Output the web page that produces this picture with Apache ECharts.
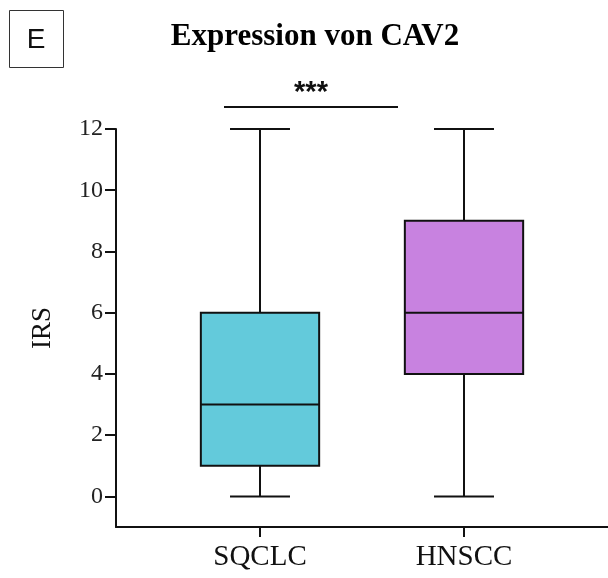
<!DOCTYPE html>
<html>
<head>
<meta charset="utf-8">
<title>Expression von CAV2</title>
<script src="https://cdn.jsdelivr.net/npm/echarts@6/dist/echarts.min.js"></script>
<style>
  html, body { margin: 0; padding: 0; background: #ffffff; }
  #chart { width: 608px; height: 578px; }
</style>
</head>
<body>
<div id="chart"></div>
<script>
// Groups and their IRS box statistics
const categories = ['SQCLC', 'HNSCC'];
const minValues = [0, 0];
const q1Values = [1, 4];
const medianValues = [3, 6];
const q3Values = [6, 9];
const maxValues = [12, 12];
const yTickValues = [0, 2, 4, 6, 8, 10, 12];

const boxColors = ['#63CADB', '#C882E0'];
const serif = "'Liberation Serif', 'Times New Roman', serif";
const sans = "'Liberation Sans', Arial, sans-serif";

const boxData = categories.map((c, i) => [
  i, minValues[i], q1Values[i], medianValues[i], q3Values[i], maxValues[i]
]);

const chart = echarts.init(document.getElementById('chart'), null, { renderer: 'canvas' });

// Box + whisker drawn in data space; caps are half the box width
function renderBox(params, api) {
  const idx = api.value(0);
  const band = api.size([1, 0])[0];
  const halfBox = band * 0.29;
  const halfCap = band * 0.147;
  const pMin = api.coord([idx, api.value(1)]);
  const pQ1 = api.coord([idx, api.value(2)]);
  const pMed = api.coord([idx, api.value(3)]);
  const pQ3 = api.coord([idx, api.value(4)]);
  const pMax = api.coord([idx, api.value(5)]);
  const cx = pMed[0];
  const stroke = { stroke: '#111111', lineWidth: 2 };
  return {
    type: 'group',
    children: [
      { type: 'line', shape: { x1: cx, y1: pMin[1], x2: cx, y2: pQ1[1] }, style: stroke },
      { type: 'line', shape: { x1: cx, y1: pQ3[1], x2: cx, y2: pMax[1] }, style: stroke },
      { type: 'line', shape: { x1: cx - halfCap, y1: pMin[1], x2: cx + halfCap, y2: pMin[1] }, style: stroke },
      { type: 'line', shape: { x1: cx - halfCap, y1: pMax[1], x2: cx + halfCap, y2: pMax[1] }, style: stroke },
      {
        type: 'rect',
        shape: { x: cx - halfBox, y: pQ3[1], width: halfBox * 2, height: pQ1[1] - pQ3[1] },
        style: { fill: boxColors[idx], stroke: '#111111', lineWidth: 2 }
      },
      { type: 'line', shape: { x1: cx - halfBox, y1: pMed[1], x2: cx + halfBox, y2: pMed[1] }, style: stroke }
    ]
  };
}

const option = {
  backgroundColor: '#ffffff',
  animation: false,
  title: {
    text: 'Expression von CAV2',
    left: 310,
    textAlign: 'center',
    top: 16,
    textStyle: { fontFamily: serif, fontSize: 31, fontWeight: 'bold', color: '#000000' }
  },
  grid: [
    { left: 116, right: 0, top: 129, bottom: 51 },
    { left: 158, right: 42, top: 129, bottom: 51 }
  ],
  xAxis: [
    {
      gridIndex: 0, type: 'value', min: 0, max: 1,
      axisLine: { show: true, onZero: false, lineStyle: { color: '#111111', width: 2 } },
      axisTick: { show: false }, axisLabel: { show: false }, splitLine: { show: false }
    },
    {
      gridIndex: 1, type: 'category', data: categories,
      axisLine: { show: false, onZero: false },
      axisTick: { show: true, alignWithLabel: true, length: 10, lineStyle: { color: '#111111', width: 2 } },
      axisLabel: { fontFamily: serif, fontSize: 29, color: '#111111', margin: 16 },
      splitLine: { show: false }
    }
  ],
  yAxis: [
    {
      gridIndex: 0, type: 'value', min: -1, max: 12,
      name: 'IRS', nameLocation: 'middle', nameGap: 60, nameRotate: 90,
      nameTextStyle: { fontFamily: serif, fontSize: 27, color: '#111111' },
      axisLine: { show: true, onZero: false, lineStyle: { color: '#111111', width: 2 } },
      axisTick: { show: true, customValues: yTickValues, length: 11, lineStyle: { color: '#111111', width: 2 } },
      axisLabel: { customValues: yTickValues, fontFamily: serif, fontSize: 24, color: '#222222', margin: 13 },
      splitLine: { show: false }
    },
    {
      gridIndex: 1, type: 'value', min: -1, max: 12, show: false
    }
  ],
  series: [
    {
      type: 'custom',
      xAxisIndex: 1,
      yAxisIndex: 1,
      renderItem: renderBox,
      encode: { x: 0, y: [1, 2, 3, 4, 5] },
      data: boxData
    }
  ],
  graphic: [
    { type: 'rect', shape: { x: 9.5, y: 10.5, width: 54, height: 57 }, style: { fill: 'none', stroke: '#333333', lineWidth: 1 } },
    { type: 'text', x: 36, y: 40, style: { text: 'E', fontFamily: sans, fontSize: 28, fill: '#111111', textAlign: 'center', textVerticalAlign: 'middle' } },
    { type: 'line', shape: { x1: 224, y1: 107, x2: 398, y2: 107 }, style: { stroke: '#111111', lineWidth: 2 } },
    { type: 'text', x: 311, y: 93, style: { text: '***', fontFamily: sans, fontSize: 29, fontWeight: 'bold', fill: '#111111', textAlign: 'center', textVerticalAlign: 'middle' } }
  ]
};

chart.setOption(option);
</script>
</body>
</html>
